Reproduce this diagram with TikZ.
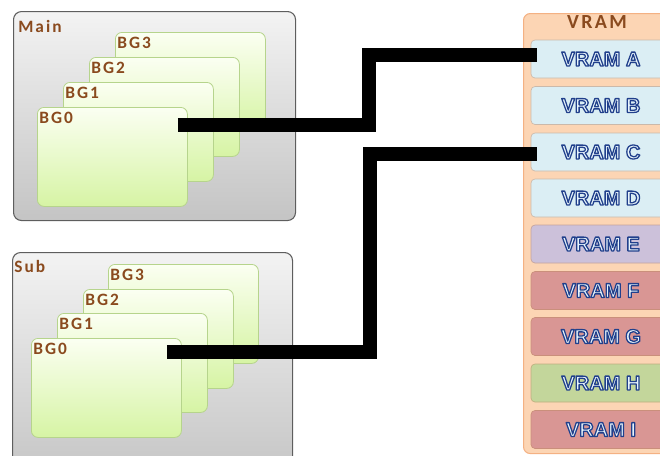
\documentclass[tikz,border=0pt]{standalone}
\usepackage{fontspec}
\setmainfont{Carlito}
\newfontfamily\labfont[LetterSpace=12]{Carlito}
\newfontfamily\vfont{Liberation Sans}
\usetikzlibrary{calc}
\newcommand{\outlinetext}[1]{\special{pdf:code q 2 Tr 0.95 w 1 j 0.13 0.25 0.55 RG}#1\special{pdf:code Q}}
\definecolor{brownlab}{HTML}{8A4A1E}
\definecolor{boxtop}{HTML}{F3F3F3}
\definecolor{boxbot}{HTML}{C4C4C4}
\definecolor{boxedge}{HTML}{5E5E5E}
\definecolor{cardtop}{HTML}{FBFFF2}
\definecolor{cardbot}{HTML}{D6F4A4}
\definecolor{cardedge}{HTML}{B6D48C}
\definecolor{panelfill}{HTML}{FCD5B4}
\definecolor{paneledge}{HTML}{F4B183}
\definecolor{vblue}{HTML}{DBEEF4}
\definecolor{vlav}{HTML}{CCC1DA}
\definecolor{vrose}{HTML}{D99694}
\definecolor{vgreen}{HTML}{C3D69B}
\definecolor{vtext}{HTML}{E6F3FB}
\begin{document}
\begin{tikzpicture}[x=0.75pt,y=0.75pt,
  grpbox/.style={draw=boxedge, line width=0.8pt, rounded corners=6pt,
    top color=boxtop, bottom color=boxbot, anchor=north west, inner sep=0pt},
  card/.style={draw=cardedge, line width=0.6pt, rounded corners=5pt,
    top color=cardtop, bottom color=cardbot, minimum width=112.5pt,
    minimum height=74.25pt, anchor=north west, inner sep=0pt},
  lab/.style={font=\labfont\fontsize{13}{13}\selectfont\bfseries, text=brownlab,
    inner sep=0pt, anchor=north west},
  panel/.style={draw=paneledge, line width=0.8pt, fill=panelfill,
    rounded corners=5pt, anchor=north west, inner sep=0pt,
    minimum width=120pt, minimum height=330pt},
  vitem/.style={draw=#1!80!black!60!paneledge, line width=0.5pt, fill=#1,
    rounded corners=3pt, minimum width=105pt, minimum height=28.5pt,
    inner sep=0pt, text=vtext, font=\vfont\bfseries\fontsize{15}{15}\selectfont},
  conn/.style={line width=11pt, black, line join=miter}
]
\useasboundingbox (0,0) rectangle (660,-455);
\clip (0,0) rectangle (660,-455);

% Main group
\node[grpbox, minimum width=211.5pt, minimum height=156.75pt] (main) at (13,-11) {};
\node[lab] (mainlab) at (18,-20) {Main};
\node[card] (mbg3) at (115,-32) {};
\node[card] (mbg2) at (89,-57) {};
\node[card] (mbg1) at (63,-82) {};
\node[card] (mbg0) at (37,-107) {};
\node[lab] (mbg3l) at ($(mbg3.north west)+(2,-5)$) {BG3};
\node[lab] (mbg2l) at ($(mbg2.north west)+(2,-5)$) {BG2};
\node[lab] (mbg1l) at ($(mbg1.north west)+(2,-5)$) {BG1};
\node[lab] (mbg0l) at ($(mbg0.north west)+(2,-5)$) {BG0};

% Sub group
\node[grpbox, minimum width=210pt, minimum height=172.5pt] (sub) at (12,-252) {};
\node[lab] (sublab) at (14,-260) {Sub};
\node[card] (sbg3) at (108,-264) {};
\node[card] (sbg2) at (83,-289) {};
\node[card] (sbg1) at (57,-313) {};
\node[card] (sbg0) at (31,-338) {};
\node[lab] (sbg3l) at ($(sbg3.north west)+(2,-5)$) {BG3};
\node[lab] (sbg2l) at ($(sbg2.north west)+(2,-5)$) {BG2};
\node[lab] (sbg1l) at ($(sbg1.north west)+(2,-5)$) {BG1};
\node[lab] (sbg0l) at ($(sbg0.north west)+(2,-5)$) {BG0};

% VRAM panel
\node[panel] (vpanel) at (523,-13) {};
\node[font=\labfont\fontsize{15}{15}\selectfont\bfseries, text=brownlab, inner sep=0pt] (vtitle) at (597,-22) {VRAM};
\node[vitem=vblue]  (vA) at (601,-59)    {\outlinetext{VRAM A}};
\node[vitem=vblue]  (vB) at (601,-105.5) {\outlinetext{VRAM B}};
\node[vitem=vblue]  (vC) at (601,-152)   {\outlinetext{VRAM C}};
\node[vitem=vblue]  (vD) at (601,-198)   {\outlinetext{VRAM D}};
\node[vitem=vlav]   (vE) at (601,-244)   {\outlinetext{VRAM E}};
\node[vitem=vrose]  (vF) at (601,-290.5) {\outlinetext{VRAM F}};
\node[vitem=vrose]  (vG) at (601,-336.5) {\outlinetext{VRAM G}};
\node[vitem=vgreen] (vH) at (601,-383)   {\outlinetext{VRAM H}};
\node[vitem=vrose]  (vI) at (601,-429.5) {\outlinetext{VRAM I}};

% connectors
\coordinate (s1) at ($(mbg0.north east)+(-10,-18)$);
\coordinate (j1) at (369,0);
\coordinate (e1) at ($(vA.west)+(6,4)$);
\draw[conn] (s1) -- (s1 -| j1) |- (e1);

\coordinate (s2) at ($(sbg0.north east)+(-15,-14)$);
\coordinate (j2) at (370,0);
\coordinate (e2) at ($(vC.west)+(6,-2)$);
\draw[conn] (s2) -- (s2 -| j2) |- (e2);
\end{tikzpicture}
\end{document}
